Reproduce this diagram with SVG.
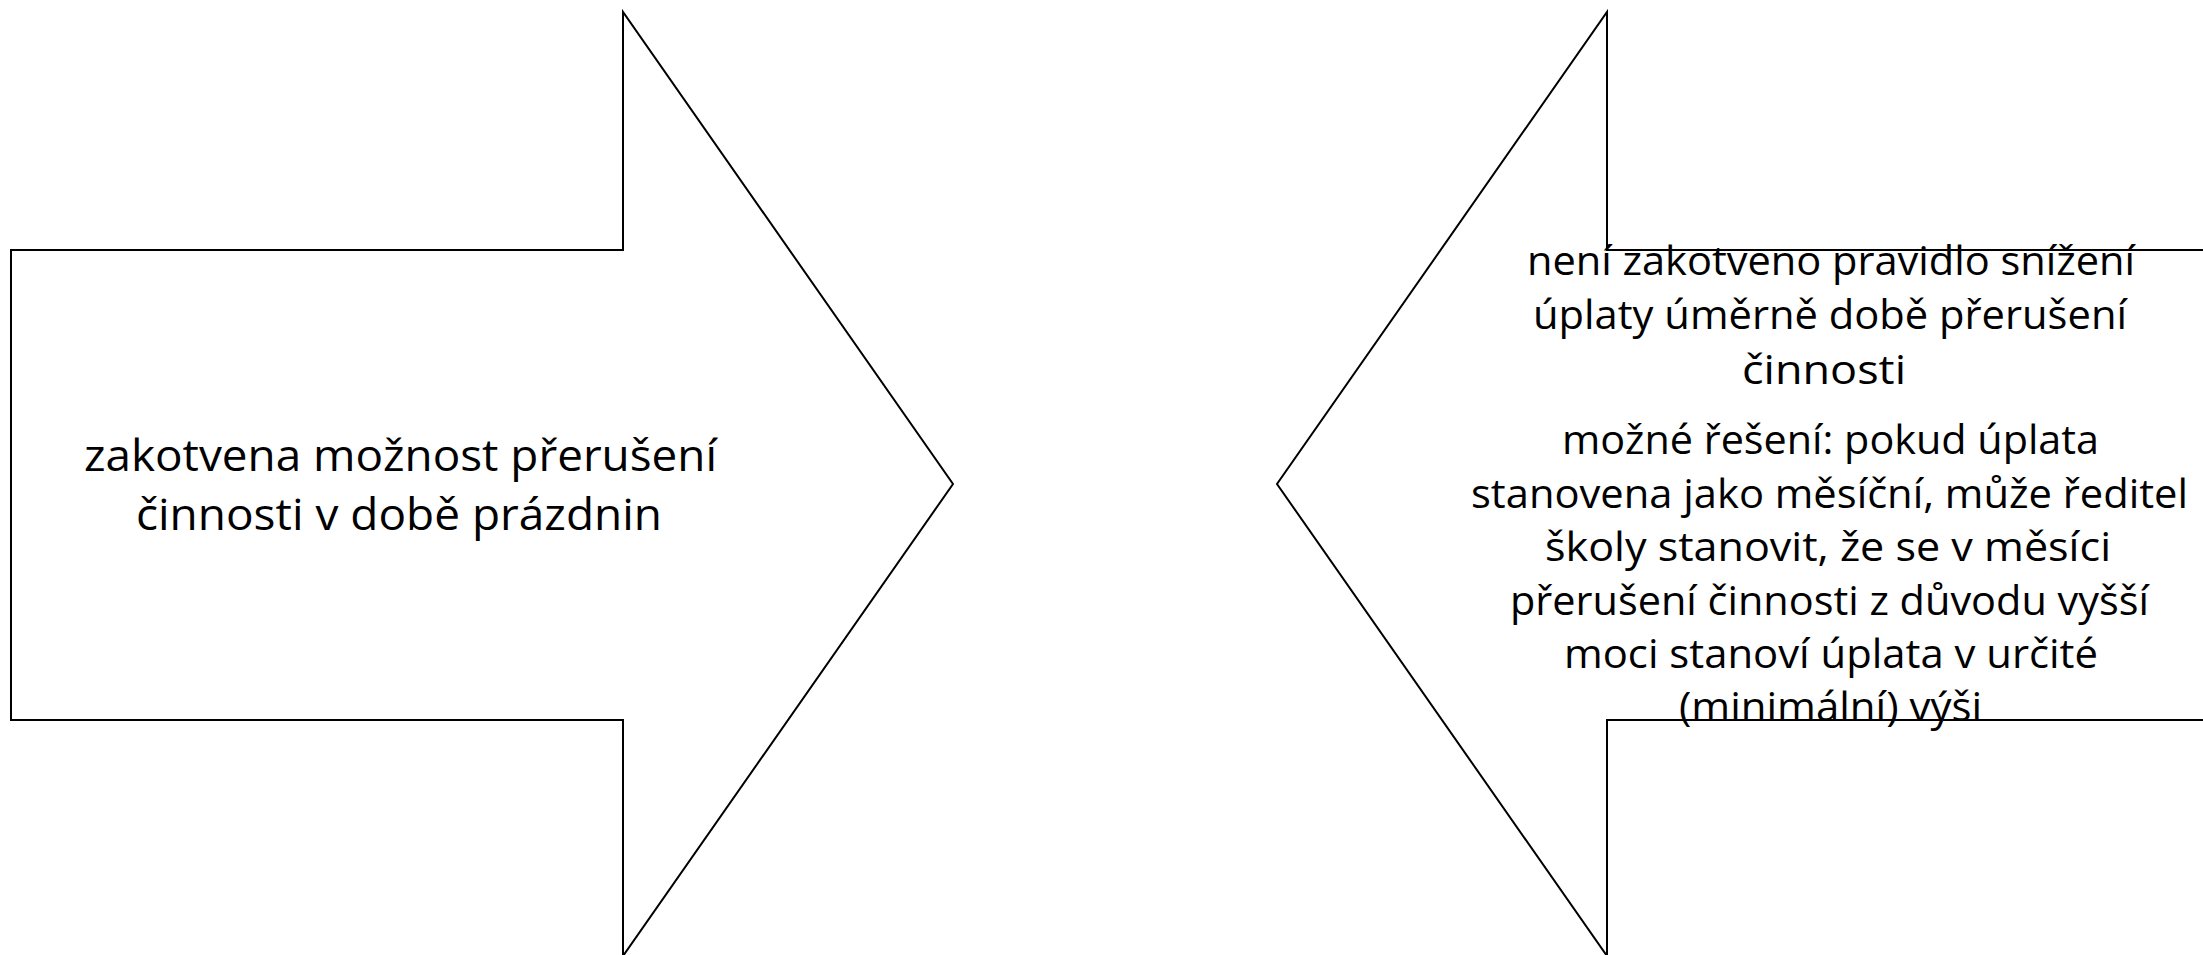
<svg xmlns="http://www.w3.org/2000/svg" width="2203" height="955" viewBox="0 0 2203 955">
  <style>
    .arrow { fill: #ffffff; stroke: #000000; stroke-width: 2; stroke-linejoin: miter; }
    .lbl { font-family: "Open Sans", "Noto Sans", "Liberation Sans", sans-serif; fill: #000000; }
    .big { font-size: 44px; }
    .small { font-size: 41px; }
  </style>
  <rect x="0" y="0" width="2203" height="955" fill="#ffffff"/>

  <!-- right-pointing block arrow -->
  <g id="node-left">
    <polygon class="arrow" points="11,250 623,250 623,12 953,484 623,956 623,720 11,720"/>
    <text class="lbl big" x="84" y="471" textLength="633" lengthAdjust="spacingAndGlyphs">zakotvena možnost přerušení</text>
    <text class="lbl big" x="136" y="530" textLength="526" lengthAdjust="spacingAndGlyphs">činnosti v době prázdnin</text>
  </g>

  <!-- left-pointing block arrow -->
  <g id="node-right">
    <polygon class="arrow" points="2210,250 1607,250 1607,12 1277,484 1607,956 1607,720 2210,720"/>
    <text class="lbl small" x="1527" y="275" textLength="608" lengthAdjust="spacingAndGlyphs">není zakotveno pravidlo snížení</text>
    <text class="lbl small" x="1533" y="329" textLength="594" lengthAdjust="spacingAndGlyphs">úplaty úměrně době přerušení</text>
    <text class="lbl small" x="1742" y="384" textLength="164" lengthAdjust="spacingAndGlyphs">činnosti</text>
    <text class="lbl small" x="1562" y="454" textLength="537" lengthAdjust="spacingAndGlyphs">možné řešení: pokud úplata</text>
    <text class="lbl small" x="1471" y="508" textLength="717" lengthAdjust="spacingAndGlyphs">stanovena jako měsíční, může ředitel</text>
    <text class="lbl small" x="1545" y="561" textLength="566" lengthAdjust="spacingAndGlyphs">školy stanovit, že se v měsíci</text>
    <text class="lbl small" x="1510" y="615" textLength="639" lengthAdjust="spacingAndGlyphs">přerušení činnosti z důvodu vyšší</text>
    <text class="lbl small" x="1564" y="668" textLength="534" lengthAdjust="spacingAndGlyphs">moci stanoví úplata v určité</text>
    <text class="lbl small" x="1679" y="721" textLength="303" lengthAdjust="spacingAndGlyphs">(minimální) výši</text>
  </g>

  <!-- no connectors between the two arrows -->
  <g id="connectors"/>
</svg>
